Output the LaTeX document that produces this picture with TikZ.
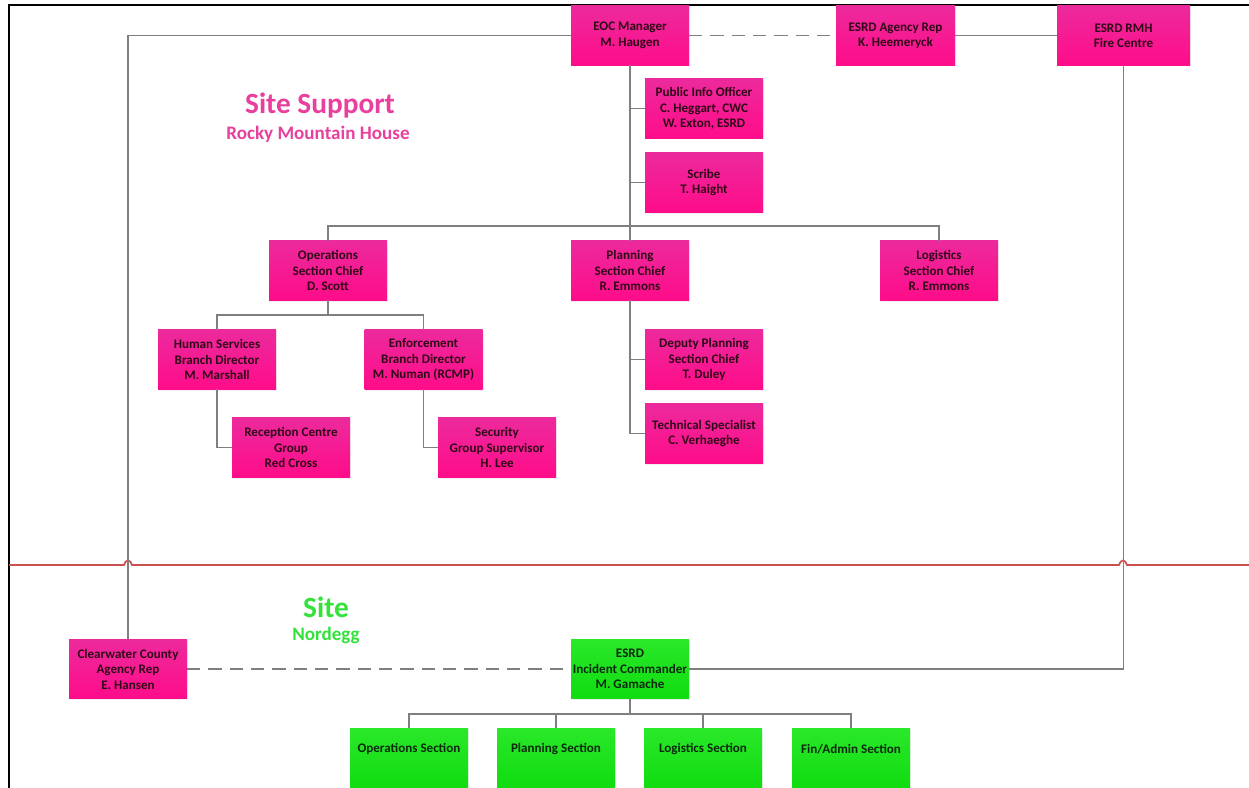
\documentclass[tikz,border=0pt]{standalone}
\usepackage{fontspec}
\setmainfont{Carlito}
\usetikzlibrary{shadows}
\definecolor{pinkA}{HTML}{EC2A9C}
\definecolor{pinkB}{HTML}{FF0C8A}
\definecolor{greenA}{HTML}{2AE82A}
\definecolor{greenB}{HTML}{10DC10}
\definecolor{ptxt}{HTML}{300818}
\definecolor{gtxt}{HTML}{0C280C}
\definecolor{lgray}{HTML}{7F7F7F}
\definecolor{redl}{HTML}{C9504F}
\definecolor{ptitle}{HTML}{E8409C}
\definecolor{gtitle}{HTML}{33E23A}
\tikzset{
  boxfont/.style={font=\bfseries\fontsize{9.8}{11.6}\selectfont},
  box/.style={rectangle, inner sep=1pt, outer sep=0pt, minimum width=88.5pt, minimum height=44.5pt,
    align=center, boxfont,
    drop shadow={opacity=0.12, shadow xshift=1pt, shadow yshift=-1pt}},
  pbox/.style={box, top color=pinkA, bottom color=pinkB, text=ptxt},
  gbox/.style={box, top color=greenA, bottom color=greenB, text=gtxt},
  sect/.style={gbox, label={[boxfont, text=gtxt, yshift=6.5pt]center:#1}},
  conn/.style={draw=lgray, line width=1.3pt},
  dconn/.style={conn, dash pattern=on 10pt off 6pt},
}
\begin{document}
\begin{tikzpicture}[x=0.75pt,y=-0.75pt]
\useasboundingbox (0,0) rectangle (1249,788);
\fill[white] (0,0) rectangle (1249,788);
% frame
\draw[black, line width=2pt] (9,790) -- (9,5) -- (1249,5);

% titles
\node[text=ptitle, font=\bfseries\fontsize{22}{26}\selectfont] (t1) at (320,105.5) {Site Support};
\node[text=ptitle, font=\bfseries\fontsize{14.3}{17}\selectfont] (t2) at (318,134) {Rocky Mountain House};
\node[text=gtitle, font=\bfseries\fontsize{22}{26}\selectfont] (t3) at (326,607.5) {Site};
\node[text=gtitle, font=\bfseries\fontsize{14.3}{17}\selectfont] (t4) at (326,635) {Nordegg};

% red divider with hops
\draw[redl, line width=1.3pt] (9,565) -- (124,565) .. controls (125.5,559) and (130.5,559) .. (132,565)
  -- (1119,565) .. controls (1120.5,559) and (1125.5,559) .. (1127,565) -- (1250,565);

% nodes
\node[pbox] (eoc) at (630,35.5) {EOC Manager\\M. Haugen};
\node[pbox, minimum width=89.25pt] (agency) at (895.5,35.5) {ESRD Agency Rep\\K. Heemeryck};
\node[pbox, minimum width=99.75pt] (fire) at (1123.5,35.5) {ESRD RMH\\Fire Centre};
\node[pbox] (pio) at (704,108.5) {Public Info Officer\\C. Heggart, CWC\\W. Exton, ESRD};
\node[pbox] (scribe) at (704,182.5) {Scribe\\T. Haight};
\node[pbox] (ops) at (328,270.5) {Operations\\Section Chief\\D. Scott};
\node[pbox] (plan) at (630,270.5) {Planning\\Section Chief\\R. Emmons};
\node[pbox] (log) at (939,270.5) {Logistics\\Section Chief\\R. Emmons};
\node[pbox] (hs) at (217,359.5) {Human Services\\Branch Director\\M. Marshall};
\node[pbox] (enf) at (423.5,359.5) {Enforcement\\Branch Director\\M. Numan (RCMP)};
\node[pbox] (rec) at (291,447.5) {Reception Centre\\Group\\Red Cross};
\node[pbox] (sec) at (497,447.5) {Security\\Group Supervisor\\H. Lee};
\node[pbox] (dep) at (704,359.5) {Deputy Planning\\Section Chief\\T. Duley};
\node[pbox] (tech) at (704,433.5) {Technical Specialist\\C. Verhaeghe};
\node[pbox] (cw) at (128,669) {Clearwater County\\Agency Rep\\E. Hansen};
\node[gbox] (ic) at (630,669) {ESRD\\Incident Commander\\M. Gamache};
\node[sect=Operations Section] (opsS) at (409,758) {};
\node[sect=Planning Section] (planS) at (556,758) {};
\node[sect=Logistics Section] (logS) at (703,758) {};
\node[sect=Fin/Admin Section] (finS) at (851,758) {};

% bus coordinates
\coordinate (bus1) at (630,226);
\coordinate (bus2) at (328,315);
\coordinate (bus3) at (630,714);

% connectors
\draw[conn] (eoc.west) -| (cw.north);
\draw[dconn] (eoc.east) -- (agency.west);
\draw[conn] (agency.east) -- (fire.west);
\draw[conn] (fire.south) |- (ic.east);
\draw[dconn] (cw.east) -- (ic.west);

\draw[conn] (eoc.south) -- (plan.north);
\draw[conn] (pio.west) -- (pio.west -| eoc.south);
\draw[conn] (scribe.west) -- (scribe.west -| eoc.south);
\draw[conn] (ops.north) |- (bus1) -| (log.north);

\draw[conn] (ops.south) -- (bus2);
\draw[conn] (hs.north) |- (bus2) -| (enf.north);
\draw[conn] (hs.south) |- (rec.west);
\draw[conn] (enf.south) |- (sec.west);

\draw[conn] (plan.south) |- (tech.west);
\draw[conn] (dep.west) -- (dep.west -| plan.south);

\draw[conn] (ic.south) -- (bus3);
\draw[conn] (opsS.north) |- (bus3) -| (finS.north);
\draw[conn] (planS.north) -- (planS.north |- bus3);
\draw[conn] (logS.north) -- (logS.north |- bus3);
\end{tikzpicture}
\end{document}
